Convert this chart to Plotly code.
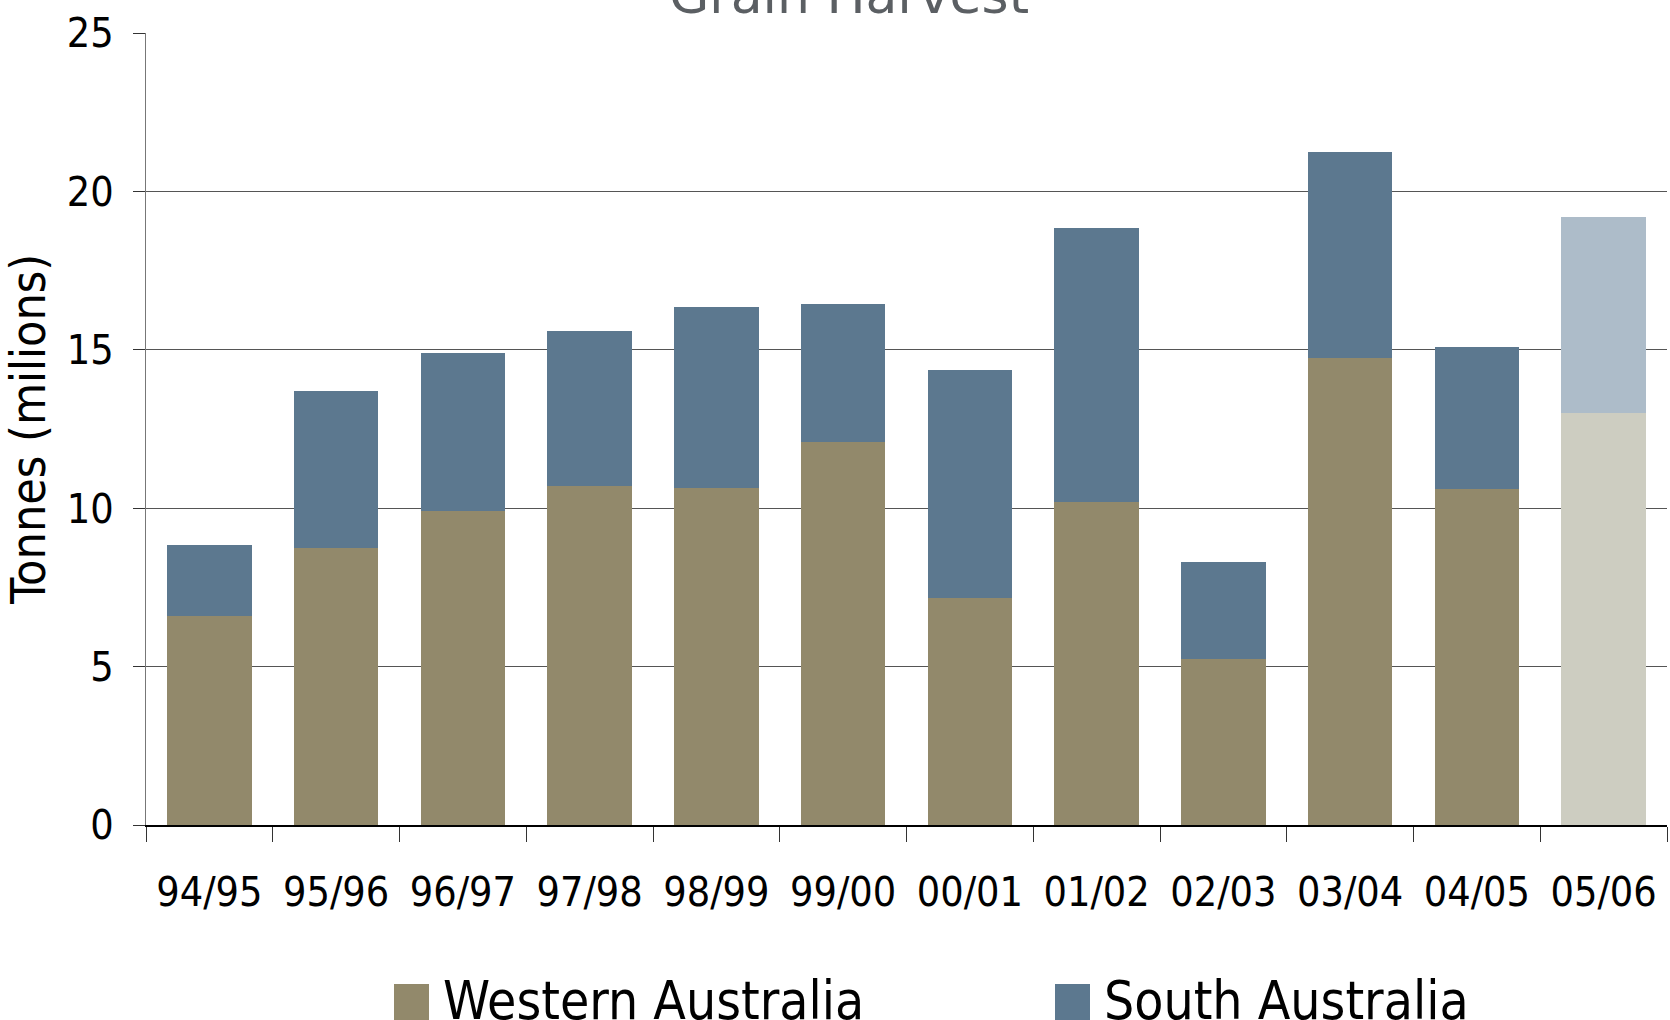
import plotly.graph_objects as go

# Grain harvest by state, million tonnes
seasons = ["94/95", "95/96", "96/97", "97/98", "98/99", "99/00",
           "00/01", "01/02", "02/03", "03/04", "04/05", "05/06"]
western_australia = [6.6, 8.75, 9.9, 10.7, 10.65, 12.1, 7.15, 10.2, 5.25, 14.75, 10.6, 13.0]
south_australia = [2.25, 4.95, 5.0, 4.9, 5.7, 4.35, 7.2, 8.65, 3.05, 6.5, 4.5, 6.2]
series_names = ["Western Australia", "South Australia"]
y_ticks = [0, 5, 10, 15, 20, 25]

WA_COLOR, WA_FORECAST = "#92896B", "#CDCDC1"
SA_COLOR, SA_FORECAST = "#5C788F", "#ADBCC9"
FONT = "DejaVu Sans Condensed"

# last season is a forecast, drawn in lighter tints
n = len(seasons)
wa_colors = [WA_COLOR] * (n - 1) + [WA_FORECAST]
sa_colors = [SA_COLOR] * (n - 1) + [SA_FORECAST]

fig = go.Figure()
fig.add_trace(go.Bar(x=seasons, y=western_australia, name=series_names[0],
                     marker=dict(color=wa_colors, line=dict(width=0)), showlegend=False))
fig.add_trace(go.Bar(x=seasons, y=south_australia, name=series_names[1],
                     marker=dict(color=sa_colors, line=dict(width=0)), showlegend=False))

W, H = 1670, 1020
L, R, T, B = 146, 3, 33, 195
plot_h = H - T - B
plot_w = W - L - R


def py(pix):
    """pixel row -> paper y"""
    return (H - B - pix) / plot_h


def px(pix):
    """pixel column -> paper x"""
    return (pix - L) / plot_w


# legend drawn as large swatches with labels below the plot
legend_items = [(394, series_names[0], WA_COLOR), (1055, series_names[1], SA_COLOR)]
shapes = []
annotations = []
for x0, label, color in legend_items:
    shapes.append(dict(type="rect", xref="paper", yref="paper",
                       x0=px(x0), x1=px(x0 + 35), y0=py(1020), y1=py(984),
                       fillcolor=color, line=dict(width=0)))
    annotations.append(dict(text=label, xref="paper", yref="paper",
                            x=px(x0 + 47), y=py(1000), xanchor="left", yanchor="middle",
                            showarrow=False, font=dict(family=FONT, size=53, color="#000000")))

annotations.append(dict(text="Grain Harvest", xref="paper", yref="paper",
                        x=px(849), y=py(27), xanchor="center", yanchor="bottom",
                        showarrow=False, font=dict(family="DejaVu Sans", size=52, color="#5B5F63")))

fig.update_layout(
    barmode="stack",
    bargap=0.335,
    width=W, height=H,
    margin=dict(l=L, r=R, t=T, b=B, pad=0),
    paper_bgcolor="white", plot_bgcolor="white",
    font=dict(family=FONT, color="#000000"),
    shapes=shapes,
    annotations=annotations,
)
fig.update_xaxes(
    type="category", tickson="boundaries",
    ticks="outside", ticklen=15, tickcolor="#333333", tickwidth=1,
    ticklabelstandoff=30,
    showline=True, linecolor="#000000", linewidth=1.5,
    showgrid=False,
    tickfont=dict(family=FONT, size=41, color="#000000"),
)
fig.update_yaxes(
    range=[0, 25], tickvals=y_ticks,
    ticks="outside", ticklen=12, tickcolor="#333333", tickwidth=1,
    ticklabelstandoff=11,
    showline=True, linecolor="#777777", linewidth=1,
    showgrid=True, gridcolor="#555555", gridwidth=1,
    zeroline=False,
    tickfont=dict(family=FONT, size=41, color="#000000"),
    title=dict(text="Tonnes (milions)", standoff=14,
               font=dict(family=FONT, size=48, color="#000000")),
)

fig.write_html("out.html")
